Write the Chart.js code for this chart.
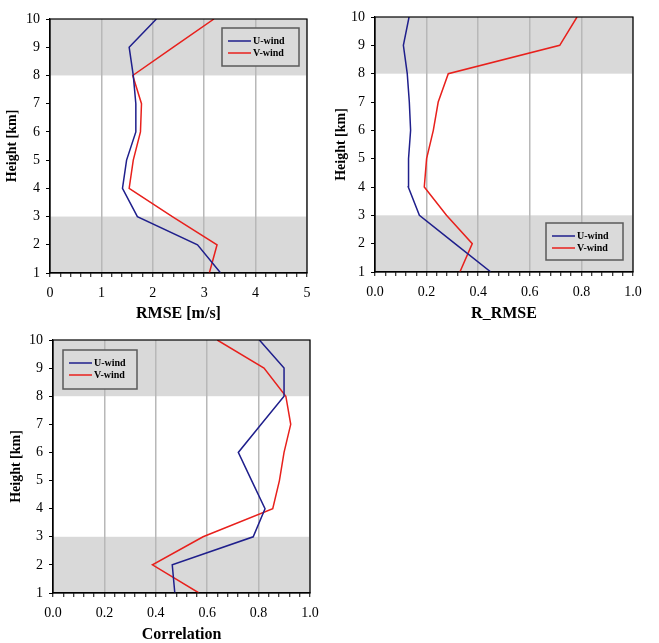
<!DOCTYPE html>
<html>
<head>
<meta charset="utf-8">
<script src="https://cdn.jsdelivr.net/npm/chart.js@4.4.1/dist/chart.umd.min.js"></script>
<style>
body { margin: 0; background: #fff; }
#wrap { position: relative; width: 659px; height: 643px; }
canvas { position: absolute; }
</style>
</head>
<body>
<div id="wrap">
  <canvas id="rmseChart" width="330" height="320" style="left:0;top:0"></canvas>
  <canvas id="rrmseChart" width="329" height="320" style="left:330px;top:0"></canvas>
  <canvas id="corrChart" width="330" height="323" style="left:0;top:320px"></canvas>
</div>
<script>
// heights (km) shared by every profile
const heights = [1, 2, 3, 4, 5, 6, 7, 8, 9, 10];

// RMSE [m/s]
const rmseU = [3.32, 2.87, 1.70, 1.41, 1.49, 1.67, 1.67, 1.62, 1.54, 2.07];
const rmseV = [3.10, 3.25, 2.38, 1.54, 1.62, 1.76, 1.78, 1.61, 2.40, 3.19];

// R_RMSE
const rrmseU = [0.449, 0.31, 0.172, 0.129, 0.130, 0.138, 0.133, 0.125, 0.110, 0.132];
const rrmseV = [0.329, 0.377, 0.277, 0.191, 0.200, 0.226, 0.245, 0.284, 0.716, 0.783];

// Correlation
const corrU = [0.474, 0.464, 0.779, 0.825, 0.773, 0.721, 0.81, 0.899, 0.899, 0.803];
const corrV = [0.568, 0.387, 0.584, 0.855, 0.881, 0.899, 0.925, 0.906, 0.821, 0.639];

// shaded height layers
const shadedBands = [[1, 3], [8, 10]];

// tick labels
const rmseTicks = ['0', '1', '2', '3', '4', '5'];
const ratioTicks = ['0.0', '0.2', '0.4', '0.6', '0.8', '1.0'];

const seriesNames = ['U-wind', 'V-wind'];
const seriesColors = ['#1f1f8c', '#e8201c'];

const serif = "'Liberation Serif', 'Times New Roman', serif";
Chart.defaults.font.family = serif;
Chart.defaults.color = '#000';

// grey layers behind the grid
const bandsPlugin = {
    id: 'bands',
    beforeDraw(chart) {
        const a = chart.chartArea;
        const y = chart.scales.y;
        const ctx = chart.ctx;
        ctx.save();
        ctx.fillStyle = '#d9d9d9';
        shadedBands.forEach(function(b) {
            const top = y.getPixelForValue(b[1]);
            const bottom = y.getPixelForValue(b[0]);
            ctx.fillRect(a.left, top, a.right - a.left, bottom - top);
        });
        ctx.restore();
    }
};

// plot frame and the boxed legend
const frameLegendPlugin = {
    id: 'frameLegend',
    afterDraw(chart, args, opts) {
        const a = chart.chartArea;
        const ctx = chart.ctx;
        ctx.save();
        ctx.strokeStyle = '#000';
        ctx.lineWidth = 1.2;
        ctx.strokeRect(a.left, a.top, a.right - a.left, a.bottom - a.top);

        const x = opts.left !== undefined ? a.left + opts.left : a.right - opts.right - opts.width;
        const y = opts.top !== undefined ? a.top + opts.top : a.bottom - opts.bottom - opts.height;
        ctx.fillStyle = '#dadada';
        ctx.fillRect(x, y, opts.width, opts.height);
        ctx.strokeStyle = '#5a5a5a';
        ctx.lineWidth = 1.5;
        ctx.strokeRect(x, y, opts.width, opts.height);

        ctx.font = 'bold 10px ' + serif;
        ctx.textBaseline = 'middle';
        chart.data.datasets.forEach(function(ds, i) {
            const ly = y + 13 + i * 12;
            ctx.strokeStyle = ds.borderColor;
            ctx.lineWidth = 1.5;
            ctx.beginPath();
            ctx.moveTo(x + 6, ly);
            ctx.lineTo(x + 29, ly);
            ctx.stroke();
            ctx.fillStyle = '#000';
            ctx.fillText(ds.label, x + 31, ly + 0.5);
        });
        ctx.restore();
    }
};

function makePanel(canvasId, cfg) {
    const major = cfg.xMax / (cfg.tickLabels.length - 1);
    const minor = major / 5;
    function isMajor(v) {
        return Math.abs(v - Math.round(v / major) * major) < 1e-6;
    }

    const datasets = [cfg.u, cfg.v].map(function(vals, k) {
        return {
            label: seriesNames[k],
            data: heights.map(function(h, i) { return { x: vals[i], y: h }; }),
            borderColor: seriesColors[k],
            borderWidth: 1.5,
            pointRadius: 0,
            showLine: true,
            fill: false,
            tension: 0
        };
    });

    new Chart(document.getElementById(canvasId), {
        type: 'scatter',
        data: { datasets: datasets },
        options: {
            responsive: false,
            animation: false,
            events: [],
            layout: { padding: { left: 0, right: cfg.padRight, top: cfg.padTop, bottom: 0 } },
            scales: {
                x: {
                    type: 'linear',
                    position: 'bottom',
                    min: 0,
                    max: cfg.xMax,
                    afterFit: function(s) {
                        s.height = cfg.xHeight;
                        s.paddingLeft = 0;
                        s.paddingRight = 0;
                    },
                    ticks: {
                        stepSize: minor,
                        autoSkip: false,
                        maxRotation: 0,
                        padding: 9,
                        font: { size: 14, lineHeight: 1 },
                        callback: function(value) {
                            if (!isMajor(value)) return '';
                            return cfg.tickLabels[Math.round(value / major)];
                        }
                    },
                    grid: {
                        color: function(c) {
                            return c.tick && isMajor(c.tick.value) ? '#b8b8b8' : 'rgba(0,0,0,0)';
                        },
                        lineWidth: 1.5,
                        tickLength: 4,
                        tickColor: '#000',
                        tickWidth: 1
                    },
                    border: { color: '#000', width: 1.2 },
                    title: {
                        display: true,
                        text: cfg.title,
                        font: { size: 16, weight: 'bold', lineHeight: 0.8 },
                        padding: { top: cfg.xTitlePad, bottom: cfg.xTitlePad }
                    }
                },
                y: {
                    type: 'linear',
                    min: 1,
                    max: 10,
                    afterFit: function(s) {
                        s.width = cfg.yWidth;
                        s.paddingTop = 0;
                        s.paddingBottom = 0;
                    },
                    ticks: {
                        stepSize: 1,
                        padding: 6,
                        font: { size: 14, lineHeight: 1 }
                    },
                    grid: {
                        drawOnChartArea: false,
                        tickLength: 4,
                        tickColor: '#000',
                        tickWidth: 1
                    },
                    border: { color: '#000', width: 1.2 },
                    title: {
                        display: true,
                        text: 'Height [km]',
                        font: { size: 14, weight: 'bold', lineHeight: 1 },
                        padding: { top: cfg.yTitlePad, bottom: cfg.yTitlePad }
                    }
                }
            },
            plugins: {
                legend: { display: false },
                tooltip: { enabled: false },
                frameLegend: cfg.legend
            }
        },
        plugins: [bandsPlugin, frameLegendPlugin]
    });
}

makePanel('rmseChart', {
    title: 'RMSE [m/s]', u: rmseU, v: rmseV, xMax: 5, tickLabels: rmseTicks,
    yWidth: 50, xHeight: 47, padRight: 23, padTop: 19, yTitlePad: 5, xTitlePad: 0,
    legend: { right: 8, top: 9, width: 77, height: 38 }
});

makePanel('rrmseChart', {
    title: 'R_RMSE', u: rrmseU, v: rrmseV, xMax: 1, tickLabels: ratioTicks,
    yWidth: 45, xHeight: 48, padRight: 26, padTop: 17, yTitlePad: 4, xTitlePad: 0,
    legend: { right: 10, bottom: 12, width: 77, height: 37 }
});

makePanel('corrChart', {
    title: 'Correlation', u: corrU, v: corrV, xMax: 1, tickLabels: ratioTicks,
    yWidth: 53, xHeight: 50, padRight: 20, padTop: 20, yTitlePad: 9, xTitlePad: 2,
    legend: { left: 10, top: 10, width: 74, height: 39 }
});
</script>
</body>
</html>
